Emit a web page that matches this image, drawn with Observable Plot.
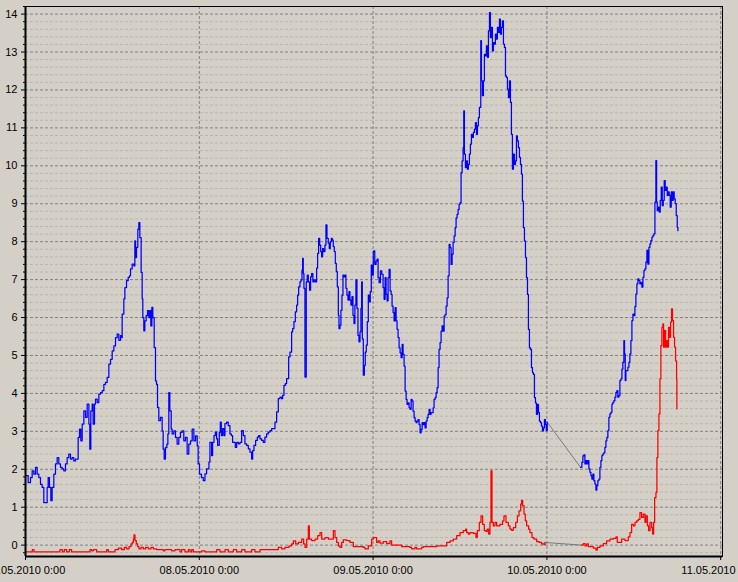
<!DOCTYPE html>
<html><head><meta charset="utf-8">
<script src="https://cdn.jsdelivr.net/npm/d3@7"></script>
<script src="https://cdn.jsdelivr.net/npm/@observablehq/plot@0.6"></script>
<style>
html,body{margin:0;padding:0;background:#d4d0c8;overflow:hidden;}
#chart svg{overflow:hidden !important;display:block;}
</style></head><body><div id="chart"></div>
<script>
// hours since 07.05.2010 0:00
const startDate = Date.UTC(2010, 4, 7);
const dayOffsets = [0, 1, 2, 3, 4];
const dayLabels = ["07.05.2010 0:00", "08.05.2010 0:00", "09.05.2010 0:00", "10.05.2010 0:00", "11.05.2010 0:00"];
const yMajor = [0,1,2,3,4,5,6,7,8,9,10,11,12,13,14];
const yDomain = [-0.3, 14.2];
const xEndHours = 96.25;

const blue = [
[0,1.83],[0.37,1.65],[0.69,1.78],[0.92,1.96],[1.15,1.87],[1.38,2.05],[1.61,1.87],[1.84,1.78],[2.07,1.60],[2.30,1.52],[2.53,1.12],[2.76,1.12],[2.99,1.52],[3.13,1.78],[3.31,1.52],[3.50,1.17],[3.68,1.52],[3.91,1.87],[4.14,2.14],[4.37,2.31],[4.60,2.14],[4.83,2.05],[5.06,2.01],[5.29,1.96],[5.52,2.14],[5.75,2.31],[5.98,2.40],[6.21,2.27],[6.44,2.31],[6.67,2.22],[6.90,2.27],[7.13,2.27],[7.27,2.84],[7.46,3.06],[7.64,2.75],[7.83,3.19],[8.06,3.54],[8.29,3.37],[8.52,3.72],[8.75,3.19],[8.88,2.53],[9.02,3.54],[9.21,3.72],[9.34,3.19],[9.53,3.72],[9.67,3.85],[9.90,3.76],[10.13,3.98],[10.36,4.02],[10.59,4.07],[10.82,4.24],[11.05,4.29],[11.28,4.42],[11.51,4.77],[11.74,4.90],[11.97,5.12],[12.20,5.25],[12.43,5.47],[12.66,5.56],[12.89,5.40],[13.12,5.52],[13.26,5.47],[13.35,6.09],[13.58,6.49],[13.72,6.79],[13.95,6.97],[14.18,7.06],[14.36,7.10],[14.50,7.28],[14.73,7.41],[14.96,7.36],[15.10,8.02],[15.19,7.58],[15.33,7.85],[15.51,8.33],[15.65,8.50],[15.79,8.11],[15.97,7.19],[16.11,6.49],[16.20,6.00],[16.34,5.65],[16.48,5.91],[16.66,6.05],[16.85,6.18],[17.03,6.00],[17.17,6.18],[17.31,5.78],[17.45,6.27],[17.58,6.00],[17.77,5.21],[17.95,4.33],[18.09,4.24],[18.23,3.63],[18.41,3.28],[18.64,3.37],[18.87,3.01],[19.01,2.53],[19.15,2.27],[19.33,2.57],[19.52,2.66],[19.66,2.93],[19.79,4.02],[19.93,3.54],[20.12,3.06],[20.25,2.93],[20.48,3.01],[20.71,2.84],[20.94,2.66],[21.17,2.84],[21.40,2.97],[21.63,3.01],[21.86,2.75],[22.09,2.84],[22.32,2.40],[22.55,2.66],[22.79,2.75],[23.02,3.06],[23.25,2.75],[23.48,2.88],[23.71,2.62],[23.84,2.14],[24.03,1.87],[24.30,1.78],
[24.55,1.70],[24.78,1.88],[25.01,2.01],[25.33,2.19],[25.47,2.71],[25.70,2.36],[25.84,2.71],[26.03,2.89],[26.21,2.98],[26.39,2.80],[26.53,2.63],[26.76,2.98],[26.90,3.24],[27.04,2.89],[27.22,3.07],[27.41,2.89],[27.54,3.20],[27.77,3.24],[28.00,3.15],[28.23,2.93],[28.42,2.89],[28.60,2.71],[28.79,2.71],[28.97,2.58],[29.16,2.71],[29.39,2.67],[29.62,2.71],[29.85,3.02],[30.08,2.89],[30.30,2.67],[30.54,2.63],[30.77,2.54],[31.00,2.45],[31.23,2.27],[31.37,2.49],[31.55,2.63],[31.78,2.76],[32.01,2.85],[32.19,2.89],[32.38,2.80],[32.61,2.76],[32.84,2.71],[33.06,2.85],[33.30,2.93],[33.52,2.98],[33.76,3.02],[33.99,3.07],[34.22,3.07],[34.45,3.24],[34.68,3.51],[34.91,3.86],[35.14,3.90],[35.37,3.86],[35.51,3.95],[35.69,4.21],[35.88,4.26],[36.06,4.39],[36.20,4.39],[36.34,4.96],[36.52,5.09],[36.75,5.62],[36.89,5.71],[37.07,5.89],[37.26,6.15],[37.44,6.33],[37.58,6.59],[37.72,6.81],[37.90,6.94],[38.04,6.99],[38.18,7.25],[38.27,7.56],[38.36,7.16],[38.45,6.77],[38.59,4.43],[38.68,4.43],[38.77,6.94],[38.91,7.12],[39.05,6.94],[39.23,6.72],[39.37,7.07],[39.51,7.16],[39.69,6.94],[39.83,6.99],[40.02,6.94],[40.20,7.30],[40.34,7.69],[40.48,8.09],[40.62,7.91],[40.76,7.74],[40.89,7.60],[41.03,7.82],[41.17,7.74],[41.35,7.91],[41.49,8.44],[41.63,8.09],[41.81,7.96],[41.95,7.82],[42.09,8.00],[42.23,8.09],[42.37,8.04],[42.50,7.87],[42.64,7.74],[42.78,7.43],[42.92,7.21],[43.06,6.81],[43.20,6.06],[43.29,5.71],[43.43,5.80],[43.56,6.19],[43.70,6.59],[43.84,7.12],[43.98,7.07],[44.11,7.12],[44.25,6.77],[44.39,6.59],[44.53,6.46],[44.67,6.68],[44.80,6.46],[44.94,6.33],[45.08,6.55],[45.22,6.06],[45.36,5.84],[45.49,6.33],[45.63,6.99],[45.77,6.24],[45.91,5.53],[46.05,5.36],[46.19,5.62],[46.32,6.24],[46.42,6.94],[46.51,5.44],[46.65,4.48],[46.79,4.74],[46.92,5.09],[47.06,5.27],[47.20,5.89],[47.34,6.59],[47.48,6.41],[47.61,6.68],[47.75,7.38],[47.89,7.12],[48.03,7.74],
[48.09,7.76],[48.23,7.40],[48.41,7.49],[48.55,7.54],[48.69,7.05],[48.83,6.92],[49.01,7.23],[49.20,7.14],[49.38,6.79],[49.52,6.48],[49.66,7.05],[49.79,6.61],[49.93,6.44],[50.07,7.05],[50.21,7.27],[50.35,6.70],[50.49,6.61],[50.62,6.30],[50.76,6.13],[50.90,5.91],[51.04,6.26],[51.18,5.91],[51.31,5.69],[51.45,5.47],[51.59,5.20],[51.73,5.07],[51.87,4.94],[52.01,5.29],[52.14,5.03],[52.28,4.72],[52.42,4.06],[52.56,3.84],[52.69,3.71],[52.83,3.75],[52.97,3.62],[53.11,3.58],[53.25,3.84],[53.38,3.80],[53.52,3.53],[53.66,3.36],[53.80,3.27],[53.94,3.23],[54.07,3.27],[54.21,3.31],[54.35,3.18],[54.49,2.96],[54.63,3.05],[54.77,3.23],[54.90,3.18],[55.04,3.23],[55.18,3.09],[55.32,3.27],[55.46,3.36],[55.59,3.45],[55.73,3.58],[55.87,3.45],[56.01,3.49],[56.15,3.49],[56.29,3.62],[56.42,3.84],[56.56,3.89],[56.70,4.02],[56.84,4.15],[56.98,4.68],[57.11,5.16],[57.25,5.34],[57.39,5.64],[57.53,5.78],[57.67,5.64],[57.81,6.04],[57.94,6.08],[58.08,6.30],[58.22,6.52],[58.36,7.10],[58.50,7.93],[58.63,7.84],[58.77,7.40],[58.91,7.67],[59.05,7.98],[59.19,8.15],[59.33,8.37],[59.46,8.63],[59.60,8.72],[59.74,8.85],[59.88,8.99],[60.02,9.03],[60.15,9.82],[60.29,10.13],[60.43,10.48],[60.52,11.45],[60.61,10.31],[60.75,9.95],[60.89,10.13],[61.02,9.91],[61.16,10.04],[61.30,10.31],[61.44,10.57],[61.58,10.83],[61.72,10.75],[61.85,10.88],[61.99,10.97],[62.13,11.14],[62.27,10.83],[62.41,11.05],[62.54,11.27],[62.68,11.54],[62.78,11.54],[62.87,13.30],[62.96,12.24],[63.10,11.85],[63.24,12.24],[63.37,12.94],[63.51,12.90],[63.65,13.16],[63.79,12.86],[63.93,13.56],[64.07,14.04],[64.20,13.38],[64.34,13.65],[64.48,13.03],[64.62,13.25],[64.76,13.21],[64.89,13.47],[65.03,13.34],[65.17,13.65],[65.31,13.52],[65.45,13.87],[65.58,13.47],[65.72,13.65],[65.86,13.82],[66.00,13.21],[66.14,13.12],[66.28,12.37],[66.41,12.33],[66.55,12.02],[66.69,11.80],[66.83,12.24],[66.97,11.67],[67.10,10.83],[67.24,9.91],[67.38,10.31],[67.52,10.04],[67.66,10.13],[67.80,10.79],[67.93,10.66],[68.07,10.48],[68.21,10.22],[68.35,10.04],[68.49,9.78],[68.62,9.07],[68.76,8.37],[68.90,8.02],[69.04,7.58],[69.18,7.05],[69.32,6.61],[69.45,5.69],[69.59,5.20],[69.73,5.16],[69.87,4.68],[70.01,4.55],[70.14,4.50],[70.28,3.89],[70.42,3.75],[70.56,3.45],[70.70,3.71],[70.84,3.49],[70.97,3.27],[71.11,3.23],[71.25,3.14],[71.39,3.01],[71.53,3.09],[71.66,3.31],[71.80,3.18],[71.92,3.02],[72.05,3.24],
[76.65,2.05],[76.83,2.18],[76.97,2.35],[77.11,2.38],[77.25,2.14],[77.39,2.23],[77.53,2.14],[77.66,2.23],[77.80,2.01],[77.94,1.92],[78.08,1.83],[78.21,1.74],[78.35,1.87],[78.49,1.70],[78.63,1.61],[78.77,1.45],[78.90,1.57],[79.04,1.70],[79.18,1.74],[79.32,2.05],[79.46,2.23],[79.59,2.36],[79.73,2.40],[79.87,2.44],[80.01,2.58],[80.15,2.75],[80.28,2.84],[80.42,3.02],[80.56,3.37],[80.70,3.46],[80.84,3.50],[80.98,3.72],[81.11,3.76],[81.25,3.81],[81.39,3.90],[81.53,4.03],[81.67,4.07],[81.80,3.90],[81.94,3.94],[82.08,4.34],[82.22,4.38],[82.36,4.64],[82.49,4.82],[82.63,5.39],[82.72,5.04],[82.82,4.34],[82.91,4.60],[83.05,4.60],[83.19,4.69],[83.33,4.82],[83.46,5.04],[83.60,5.39],[83.74,5.92],[83.88,6.09],[84.02,6.05],[84.15,6.29],[84.29,6.62],[84.43,6.89],[84.57,7.02],[84.71,6.97],[84.84,6.89],[84.98,6.93],[85.12,6.80],[85.26,7.06],[85.40,7.24],[85.53,7.28],[85.67,7.46],[85.81,7.77],[85.95,7.41],[86.09,7.85],[86.23,7.94],[86.36,8.03],[86.50,8.12],[86.64,8.16],[86.78,8.21],[86.92,9.04],[87.05,10.14],[87.15,9.04],[87.24,8.82],[87.38,8.91],[87.51,8.78],[87.65,9.09],[87.79,9.44],[87.93,8.95],[88.07,9.09],[88.20,9.61],[88.34,9.35],[88.48,9.44],[88.62,9.22],[88.76,9.31],[88.89,9.22],[89.03,8.91],[89.17,9.31],[89.31,9.09],[89.45,9.31],[89.58,9.13],[89.72,9.00],[89.86,8.69],[90.00,8.38],[90.09,8.29]
];

const red = [
[0,-0.18],[0.94,-0.12],[1.17,-0.18],[4.76,-0.12],[5.09,-0.18],[5.36,-0.12],[5.68,-0.18],[6.05,-0.12],[6.37,-0.18],[8.91,-0.12],[9.14,-0.15],[9.37,-0.12],[9.83,-0.18],[11.21,-0.12],[11.44,-0.18],[12.36,-0.12],[12.82,-0.08],[13.28,-0.12],[13.65,-0.06],[13.97,-0.10],[14.29,-0.04],[14.57,0.03],[14.75,0.07],[14.89,0.16],[14.98,0.27],[15.12,0.12],[15.30,0.03],[15.49,-0.04],[15.67,-0.10],[15.95,-0.06],[16.27,-0.10],[16.59,-0.06],[16.96,-0.10],[17.33,-0.06],[17.65,-0.10],[18.11,-0.12],[18.80,-0.12],[19.03,-0.15],[19.26,-0.12],[20.18,-0.15],[20.64,-0.12],[21.33,-0.18],[21.56,-0.12],[22.02,-0.18],[22.49,-0.12],[22.72,-0.18],[22.95,-0.12],[23.18,-0.18],[24.33,-0.15],[24.79,-0.18],[26.40,-0.12],[26.86,-0.18],[27.55,-0.12],[28.01,-0.18],[28.70,-0.12],[29.16,-0.18],[29.85,-0.12],[30.31,-0.18],[31.23,-0.12],[31.69,-0.18],[32.38,-0.12],[34.91,-0.06],[35.37,-0.10],[35.83,-0.06],[36.39,-0.02],[36.75,0.03],[36.99,0.11],[37.31,0.03],[37.68,0.07],[38.14,0.16],[38.41,0.03],[38.60,-0.06],[38.83,0.16],[39.06,0.51],[39.20,0.16],[39.52,0.12],[39.98,0.16],[40.35,0.25],[40.67,0.33],[40.90,0.16],[41.36,0.20],[41.82,0.16],[42.28,0.16],[42.51,0.38],[42.74,0.20],[42.97,0.07],[43.20,-0.02],[43.43,-0.06],[43.66,0.07],[43.89,0.14],[44.35,0.12],[44.81,0.07],[45.27,-0.04],[46.65,-0.06],[46.88,-0.10],[47.34,-0.02],[47.80,0.16],[48.03,0.20],[48.49,0.07],[48.72,0.11],[48.95,0.05],[49.41,0.09],[49.87,0.04],[50.33,0.11],[50.56,0.00],[51.94,-0.04],[53.09,-0.06],[53.32,-0.10],[53.78,-0.06],[54.01,-0.10],[54.70,-0.06],[54.93,-0.04],[56.78,-0.02],[58.16,0.07],[58.62,0.11],[59.08,0.16],[59.54,0.25],[60.00,0.33],[60.46,0.38],[60.78,0.42],[60.92,0.33],[61.15,0.29],[61.38,0.33],[61.84,0.31],[62.21,0.20],[62.39,0.38],[62.67,0.60],[62.90,0.77],[63.13,0.55],[63.36,0.38],[63.59,0.36],[63.77,0.42],[63.96,0.29],[64.14,0.60],[64.28,1.96],[64.42,0.60],[64.60,0.51],[64.83,0.60],[65.06,0.51],[65.52,0.55],[65.89,0.64],[66.07,0.77],[66.35,0.60],[66.67,0.51],[66.90,0.42],[67.13,0.39],[67.36,0.46],[67.69,0.60],[67.92,0.77],[68.15,0.90],[68.38,1.08],[68.51,1.18],[68.65,1.04],[68.84,0.82],[69.02,0.64],[69.20,0.51],[69.48,0.42],[69.66,0.33],[69.94,0.20],[70.22,0.16],[70.59,0.09],[70.95,0.07],[71.28,0.03],[71.60,0.01],[71.74,0.07],
[76.80,0.00],[77.03,0.04],[77.26,-0.02],[77.49,0.03],[77.72,-0.04],[78.18,-0.04],[78.41,-0.08],[78.78,-0.13],[78.96,-0.06],[79.33,-0.02],[79.79,0.04],[80.25,0.11],[80.71,0.16],[81.17,0.18],[81.54,0.22],[81.72,0.07],[82.00,0.07],[82.32,0.16],[82.78,0.12],[83.24,0.22],[83.47,0.33],[83.70,0.55],[83.93,0.51],[84.16,0.60],[84.39,0.64],[84.62,0.68],[84.85,0.86],[85.08,0.73],[85.31,0.82],[85.54,0.60],[85.68,0.77],[85.87,0.51],[86.05,0.38],[86.24,0.60],[86.47,0.46],[86.60,0.29],[86.74,0.60],[86.88,1.25],[87.06,1.39],[87.19,2.31],[87.33,3.02],[87.47,3.46],[87.61,4.38],[87.74,5.26],[87.88,5.74],[88.02,5.83],[88.11,5.22],[88.25,5.66],[88.39,5.22],[88.52,5.39],[88.66,5.22],[88.80,5.74],[88.94,5.48],[89.08,5.88],[89.22,6.23],[89.35,5.92],[89.49,5.48],[89.63,5.22],[89.77,4.86],[89.91,4.38],[89.95,3.59]
];

const toDate = h => new Date(startDate + h * 3600000);
const dayDates = dayOffsets.map(d => toDate(d * 24));
const yMinor = d3.range(-0.2, 14.21, 0.2).map(v => Math.round(v * 10) / 10).filter(v => Math.abs(v - Math.round(v)) > 1e-6);

// a break in the recording longer than 4 hours is bridged by a thin grey line
function build(series) {
  const rows = [], gaps = [];
  let seg = 0;
  series.forEach((d, i) => {
    if (i > 0 && d[0] - series[i - 1][0] > 4) {
      seg++;
      gaps.push({t: toDate(series[i - 1][0]), v: series[i - 1][1], g: seg});
      gaps.push({t: toDate(d[0]), v: d[1], g: seg});
    }
    rows.push({t: toDate(d[0]), v: d[1], seg});
  });
  return {rows, gaps};
}
const B = build(blue), R = build(red);

const gridMajor = "#808080", gridMinor = "#b9b5ad";

const chart = Plot.plot({
  width: 738, height: 582,
  marginLeft: 25, marginRight: 16, marginTop: 6, marginBottom: 26,
  style: {background: "#d4d0c8", fontFamily: "'Liberation Sans', Arial, sans-serif", fontSize: "11px", color: "black", overflow: "hidden"},
  x: {type: "utc", domain: [toDate(0), toDate(xEndHours)]},
  y: {domain: yDomain},
  marks: [
    Plot.ruleY(yMinor, {stroke: gridMinor, strokeDasharray: "3,2", strokeWidth: 1}),
    Plot.ruleY(yMajor, {stroke: gridMajor, strokeDasharray: "3,2", strokeWidth: 1}),
    Plot.ruleX(dayDates, {stroke: gridMajor, strokeDasharray: "3,2", strokeWidth: 1}),
    Plot.line(B.gaps, {x: "t", y: "v", z: "g", stroke: "#7a7a7a", strokeWidth: 1}),
    Plot.line(R.gaps, {x: "t", y: "v", z: "g", stroke: "#7a7a7a", strokeWidth: 1}),
    Plot.line(B.rows, {x: "t", y: "v", z: "seg", stroke: "#0000ff", strokeWidth: 1.25, curve: "step-after"}),
    Plot.line(R.rows, {x: "t", y: "v", z: "seg", stroke: "#ff0000", strokeWidth: 1.25, curve: "step-after"}),
    Plot.frame({stroke: "black", strokeWidth: 1}),
    Plot.ruleX([toDate(0)], {stroke: "black", strokeWidth: 2}),
    Plot.ruleY([yDomain[0]], {stroke: "black", strokeWidth: 2}),
    Plot.axisY(yMinor, {tickSize: 2, tickFormat: () => "", label: null, stroke: "black"}),
    Plot.axisY(yMajor, {tickSize: 4, tickPadding: 4, label: null, stroke: "black", fill: "black", fontSize: 11}),
    Plot.axisX(dayDates, {tickSize: 4, tickPadding: 6, label: null, stroke: "black", fill: "black", fontSize: 11,
      tickFormat: d => dayLabels[dayDates.findIndex(x => +x === +d)]})
  ]
});
document.getElementById("chart").appendChild(chart);
</script></body></html>
